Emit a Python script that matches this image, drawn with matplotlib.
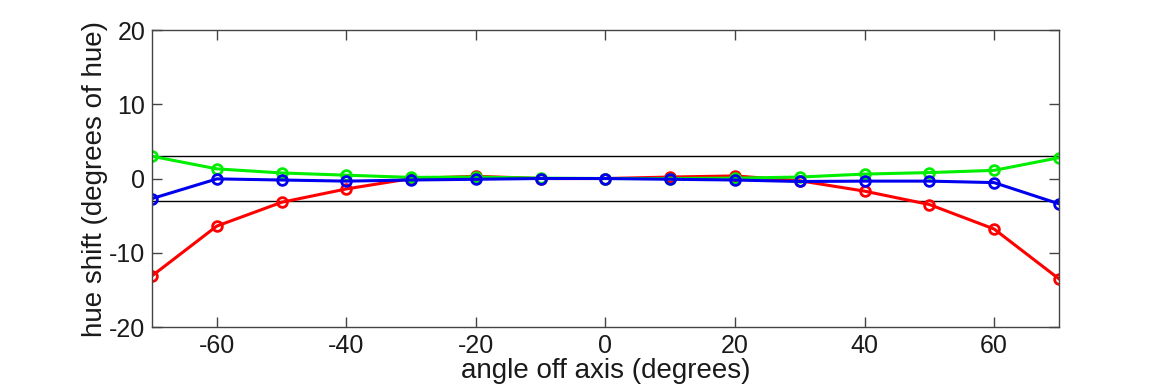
import numpy as np
import matplotlib
matplotlib.use('Agg')
import matplotlib.pyplot as plt

# viewing angle vs hue shift, one series per primary
angles = [-70, -60, -50, -40, -30, -20, -10, 0, 10, 20, 30, 40, 50, 60, 70]
red_shift = [-13.1, -6.4, -3.2, -1.4, 0.0, 0.3, 0.0, 0.0, 0.2, 0.35, -0.3, -1.7, -3.5, -6.8, -13.5]
green_shift = [3.0, 1.3, 0.75, 0.45, 0.15, 0.2, 0.05, 0.0, 0.0, 0.05, 0.2, 0.6, 0.8, 1.1, 2.8]
blue_shift = [-2.7, -0.05, -0.2, -0.35, -0.2, -0.1, 0.0, 0.0, -0.1, -0.2, -0.4, -0.35, -0.35, -0.55, -3.4]
limit = 3.0

plt.rcParams['font.family'] = ['Liberation Sans', 'DejaVu Sans']
plt.rcParams['axes.unicode_minus'] = False

fig = plt.figure(figsize=(11.7, 3.9), dpi=100)
ax = fig.add_axes([0.130, 0.1615, 0.775, 0.7615])

ax.axhline(limit, color='black', lw=1.0, zorder=1)
ax.axhline(-limit, color='black', lw=1.0, zorder=1)

for vals, col in [(red_shift, '#ff0000'), (green_shift, '#00ee00'), (blue_shift, '#0000ee')]:
    ax.plot(angles, vals, '-o', color=col, lw=2.2, ms=7, mfc='none', mew=2.0, zorder=2)

ax.set_xlim(-70, 70)
ax.set_ylim(-20, 20)
ax.set_xticks([-60, -40, -20, 0, 20, 40, 60])
ax.set_yticks([-20, -10, 0, 10, 20])
ax.tick_params(direction='in', top=True, right=True, length=7, width=1,
               color='#444444', labelsize=18, labelcolor='#1a1a1a', pad=5)
for s in ax.spines.values():
    s.set_color('#444444')
    s.set_linewidth(1)

ax.set_xlabel('angle off axis (degrees)', fontsize=20, color='#1a1a1a', labelpad=0)
ax.set_ylabel('hue shift (degrees of hue)', fontsize=20, color='#1a1a1a', labelpad=1)

fig.savefig('out.png', dpi=100)
